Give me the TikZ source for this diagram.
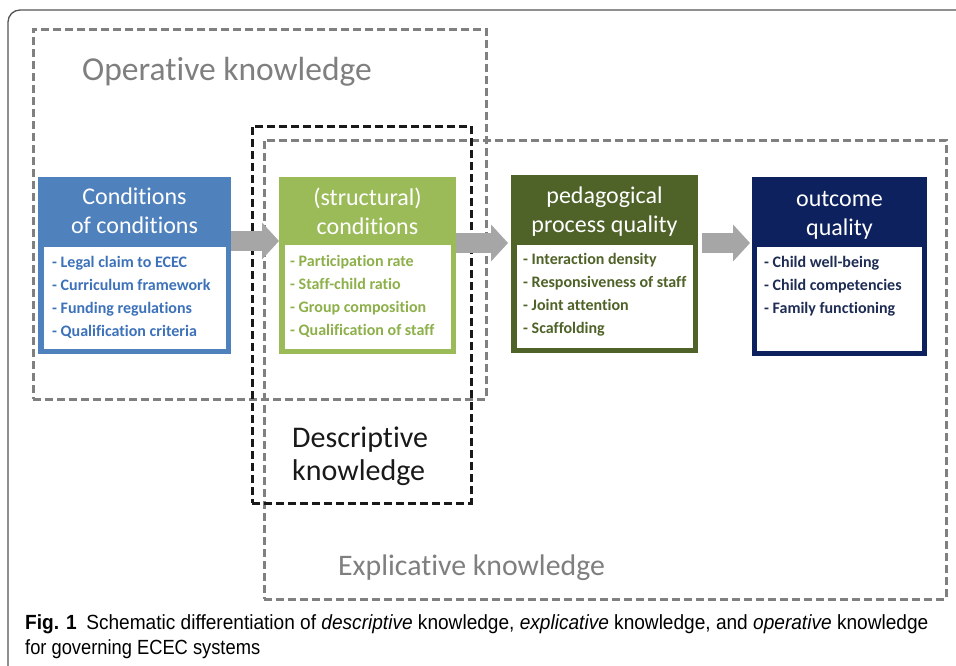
\documentclass[tikz,border=0pt]{standalone}
\usepackage{fontspec}
\setmainfont{Carlito}[Ligatures=NoCommon]
\newfontfamily\capfont{Liberation Sans}
\usetikzlibrary{arrows.meta}
\definecolor{cblue}{HTML}{4F81BD}
\definecolor{cbluet}{HTML}{3D72BA}
\definecolor{cgreen}{HTML}{9BBB59}
\definecolor{cgreent}{HTML}{8DB04A}
\definecolor{colive}{HTML}{4F6228}
\definecolor{cnavy}{HTML}{0D215E}
\definecolor{cnavyt}{HTML}{1F2D55}
\definecolor{dgray}{HTML}{808080}
\definecolor{agray}{HTML}{A6A6A6}
\definecolor{lgray}{HTML}{7F7F7F}
\definecolor{framec}{HTML}{555555}
\begin{document}
\begin{tikzpicture}[x=1pt,y=-1pt,
  graydash/.style={draw=dgray, line width=2.6pt, dash pattern=on 8pt off 4pt, inner sep=0, anchor=north west},
  blackdash/.style={draw=black!90, line width=2.6pt, dash pattern=on 8pt off 4pt, inner sep=0, anchor=north west},
  outerbox/.style={anchor=north west, inner sep=0},
  innerbox/.style={fill=white, anchor=north west, inner sep=0},
  head/.style={text=white, align=center, inner sep=0, font=\fontsize{24}{29}\selectfont},
  items/.style={align=left, anchor=north west, inner sep=0, font=\bfseries\fontsize{16}{23}\selectfont},
  region/.style={inner sep=0, anchor=base west},
  blockarrow/.style={draw=agray, line width=20pt, -{Triangle[width=36pt,length=17pt]}},
  captext/.style={anchor=base west, inner sep=0, font=\capfont\fontsize{20.5}{25}\selectfont}
]
\useasboundingbox (0,0) rectangle (956,666);
\fill[white] (0,0) rectangle (956,666);
% frame
\draw[framec, line width=1.3pt] (8,666) -- (8,22) arc[start angle=180, end angle=270, radius=12] -- (956,10);

% knowledge regions
\node[graydash, minimum width=453pt, minimum height=370pt] (op) at (32,28) {};
\node[graydash, minimum width=682pt, minimum height=459pt] (ex) at (263,139) {};
\node[blackdash, minimum width=219pt, minimum height=377pt] (de) at (251,125) {};

\node[region, text=lgray, font=\fontsize{33.5}{33}\selectfont] (opl) at (82,81) {Operative knowledge};
\node[region, text=black!90, font=\fontsize{30}{33}\selectfont] (del1) at (292,447) {Descriptive};
\node[region, text=black!90, font=\fontsize{30}{33}\selectfont] (del2) at (292,480) {knowledge};
\node[region, text=lgray, font=\fontsize{29.8}{33}\selectfont] (exl) at (338,575) {Explicative knowledge};

% box 1
\node[outerbox, fill=cblue, minimum width=193pt, minimum height=177pt] (b1) at (38,177) {};
\node[innerbox, minimum width=182pt, minimum height=102pt] (w1) at (44,247) {};
\node[head] (h1) at (134.5,211) {Conditions\\of conditions};
\node[items, text=cbluet] (i1) at (52,256) {- Legal claim to ECEC\\- Curriculum framework\\- Funding regulations\\- Qualification criteria};

% box 2
\node[outerbox, fill=cgreen, minimum width=177pt, minimum height=177pt] (b2) at (279,177) {};
\node[innerbox, minimum width=166pt, minimum height=104pt] (w2) at (285,245) {};
\node[head] (h2) at (367.5,211) {(structural)\\conditions};
\node[items, text=cgreent] (i2) at (290,255) {- Participation rate\\- Staff-child ratio\\- Group composition\\- Qualification of staff};

% box 3
\node[outerbox, fill=colive, minimum width=187pt, minimum height=178pt] (b3) at (511,175) {};
\node[innerbox, minimum width=176pt, minimum height=103pt] (w3) at (517,245) {};
\node[head] (h3) at (604.5,212) {pedagogical\\process quality};
\node[items, text=colive] (i3) at (523,253) {- Interaction density\\- Responsiveness of staff\\- Joint attention\\- Scaffolding};

% box 4
\node[outerbox, fill=cnavy, minimum width=175pt, minimum height=179pt] (b4) at (752,177) {};
\node[innerbox, minimum width=165pt, minimum height=104pt] (w4) at (757,247) {};
\node[head] (h4) at (839.5,215) {outcome\\quality};
\node[items, text=cnavyt] (i4) at (764,256) {- Child well-being\\- Child competencies\\- Family functioning};

% arrows
\draw[blockarrow] ([yshift=-64pt]b1.north east) -- ([yshift=-64pt]b2.north west);
\draw[blockarrow] ([yshift=-66pt]b2.north east) -- ([xshift=-3pt,yshift=-68pt]b3.north west);
\draw[blockarrow] ([xshift=4pt,yshift=-68pt]b3.north east) -- ([xshift=-2pt,yshift=-66pt]b4.north west);

% caption
\node[captext] (cap1) at (25,629) {\resizebox{903pt}{\height}{\textbf{Fig. 1}\enspace Schematic differentiation of \textit{descriptive} knowledge, \textit{explicative} knowledge, and \textit{operative} knowledge}};
\node[captext] (cap2) at (25,654) {\resizebox{235pt}{\height}{for governing ECEC systems}};
\end{tikzpicture}
\end{document}
